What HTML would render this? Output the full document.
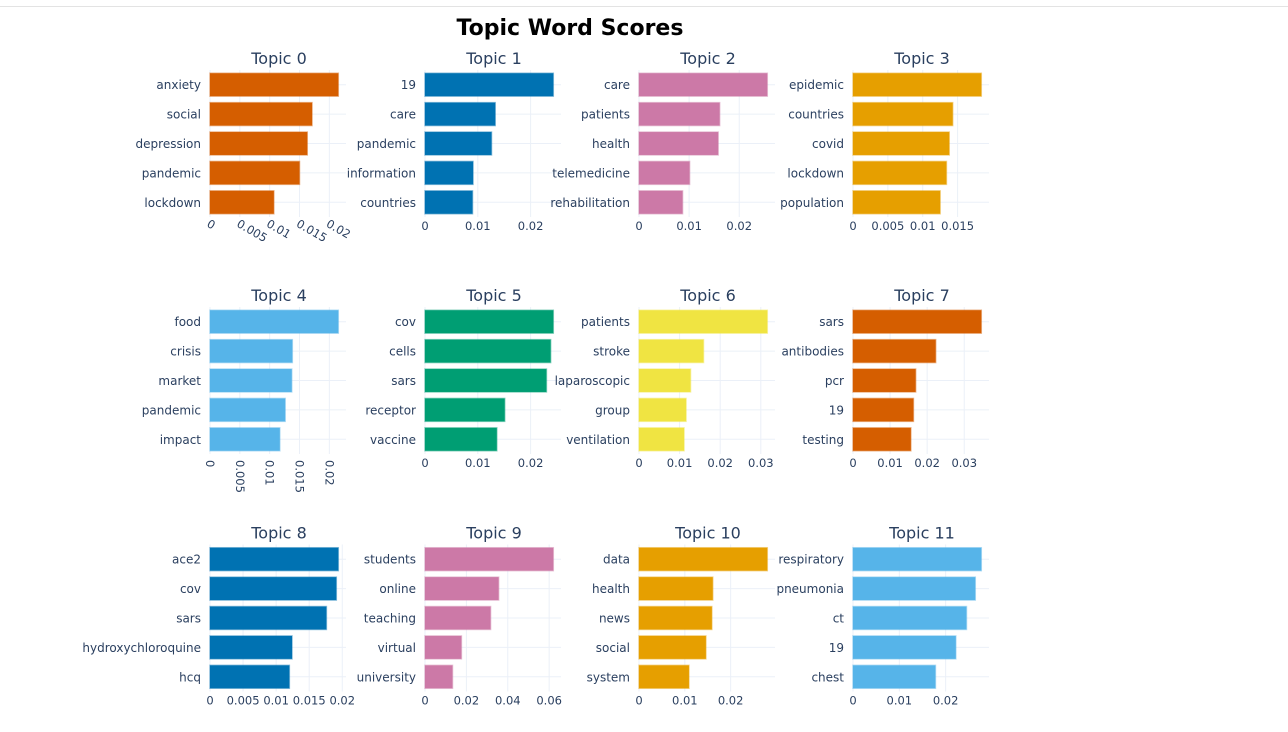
<!DOCTYPE html>
<html><head><meta charset="utf-8"><style>
html,body{margin:0;padding:0;background:#fff;}
svg{display:block;font-family:"DejaVu Sans","Liberation Sans",sans-serif;}
</style></head><body>
<svg id="chart" width="1288" height="732">
<line x1="0" y1="6.5" x2="1288" y2="6.5" stroke="#e3e3e3"/>
<text x="570" y="35" text-anchor="middle" font-size="22" font-weight="bold" fill="#000">Topic Word Scores</text>
</svg>
<script>
const topicNames = ["Topic 0","Topic 1","Topic 2","Topic 3","Topic 4","Topic 5","Topic 6","Topic 7","Topic 8","Topic 9","Topic 10","Topic 11"];
const topicWords = [
 ["anxiety","social","depression","pandemic","lockdown"],
 ["19","care","pandemic","information","countries"],
 ["care","patients","health","telemedicine","rehabilitation"],
 ["epidemic","countries","covid","lockdown","population"],
 ["food","crisis","market","pandemic","impact"],
 ["cov","cells","sars","receptor","vaccine"],
 ["patients","stroke","laparoscopic","group","ventilation"],
 ["sars","antibodies","pcr","19","testing"],
 ["ace2","cov","sars","hydroxychloroquine","hcq"],
 ["students","online","teaching","virtual","university"],
 ["data","health","news","social","system"],
 ["respiratory","pneumonia","ct","19","chest"]
];
const topicScores = [
 [0.0215,0.0171,0.0163,0.0150,0.0107],
 [0.0243,0.0133,0.0126,0.0091,0.0090],
 [0.0256,0.0161,0.0158,0.0101,0.0087],
 [0.0184,0.0143,0.0138,0.0134,0.0125],
 [0.0215,0.0138,0.0137,0.0126,0.0117],
 [0.0243,0.0238,0.0230,0.0151,0.0136],
 [0.0316,0.0159,0.0127,0.0116,0.0111],
 [0.0346,0.0223,0.0169,0.0163,0.0156],
 [0.0194,0.0191,0.0176,0.0124,0.0120],
 [0.0620,0.0356,0.0317,0.0176,0.0133],
 [0.0280,0.0161,0.0159,0.0146,0.0109],
 [0.0277,0.0264,0.0245,0.0222,0.0178]
];
const tickValues = [
 [0,0.005,0.01,0.015,0.02],[0,0.01,0.02],[0,0.01,0.02],[0,0.005,0.01,0.015],
 [0,0.005,0.01,0.015,0.02],[0,0.01,0.02],[0,0.01,0.02,0.03],[0,0.01,0.02,0.03],
 [0,0.005,0.01,0.015,0.02],[0,0.02,0.04,0.06],[0,0.01,0.02],[0,0.01,0.02]
];
const tickLabels = [
 ["0","0.005","0.01","0.015","0.02"],["0","0.01","0.02"],["0","0.01","0.02"],["0","0.005","0.01","0.015"],
 ["0","0.005","0.01","0.015","0.02"],["0","0.01","0.02"],["0","0.01","0.02","0.03"],["0","0.01","0.02","0.03"],
 ["0","0.005","0.01","0.015","0.02"],["0","0.02","0.04","0.06"],["0","0.01","0.02"],["0","0.01","0.02"]
];
const tickAngles = [30,0,0,0,90,0,0,0,0,0,0,0];
const colors = ["#D55E00","#0072B2","#CC79A7","#E69F00","#56B4E9","#009E73","#F0E442","#D55E00","#0072B2","#CC79A7","#E69F00","#56B4E9"];
const colX = [210,425,639,853];
const rowY = [70,307,544.5];
const PW = 136, PH = 147;
const NS = "http://www.w3.org/2000/svg";
const svg = document.getElementById('chart');
function mk(tag, attrs, parent){
  const e = document.createElementNS(NS, tag);
  for (const k in attrs) e.setAttribute(k, attrs[k]);
  parent.appendChild(e); return e;
}
topicNames.forEach((name, i) => {
  const x0 = colX[i % 4], y0 = rowY[Math.floor(i / 4)];
  const vals = topicScores[i];
  const xmax = Math.max(...vals) * 1.06;
  const xs = v => x0 + v / xmax * PW;
  const slot = PH / vals.length;
  const yc = k => y0 + slot * (k + 0.5);
  const g = mk('g', {}, svg);
  
  
  tickValues[i].forEach((t, j) => {
    const gx = xs(t);
    const gl = mk('line', {x1: gx, x2: gx, y1: y0, y2: y0 + PH, stroke: '#ebf0f8', 'stroke-width': 1}, g);
    
    
    const ty = y0 + PH + 13;
    const a = tickAngles[i];
    let tl;
    if (a === 0) {
      tl = mk('text', {x: gx, y: ty, 'text-anchor': 'middle', 'font-size': 11.5, fill: '#2a3f5f'}, g);
    } else if (a === 90) {
      tl = mk('text', {x: 0, y: 0, 'text-anchor': 'start', 'font-size': 11.5, fill: '#2a3f5f', transform: `translate(${gx - 4},${y0 + PH + 6}) rotate(90)`}, g);
    } else {
      tl = mk('text', {x: 0, y: 0, 'text-anchor': 'start', 'font-size': 11.5, fill: '#2a3f5f', transform: `translate(${gx - 4},${y0 + PH + 9}) rotate(30)`}, g);
    }
    tl.textContent = tickLabels[i][j];
    
    
  });
  vals.forEach((v, k) => {
    const gl = mk('line', {x1: x0, x2: x0 + PW, y1: yc(k), y2: yc(k), stroke: '#ebf0f8', 'stroke-width': 1}, g);
    
    
  });
  vals.forEach((v, k) => {
    const bh = slot * 0.78;
    const r = mk('rect', {x: x0, y: yc(k) - bh / 2, width: xs(v) - x0, height: bh, fill: colors[i], stroke: colors[i], 'stroke-opacity': 0.45, 'stroke-width': 1.5}, g);
    
    
    const lb = mk('text', {x: x0 - 9, y: yc(k) + 4.5, 'text-anchor': 'end', 'font-size': 12, fill: '#2a3f5f'}, g);
    lb.textContent = topicWords[i][k];
    
    
  });
  const t = mk('text', {x: x0 + PW / 2 + 1, y: y0 - 6, 'text-anchor': 'middle', 'font-size': 16, fill: '#2a3f5f'}, g);
  t.textContent = name;
  
  
});
</script>
</body></html>
